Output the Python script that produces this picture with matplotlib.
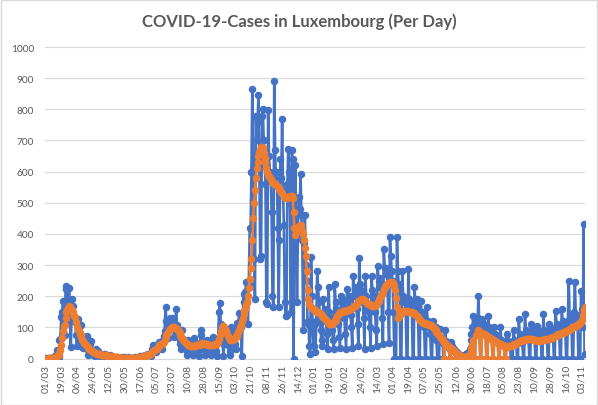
import numpy as np
import matplotlib
matplotlib.use("Agg")
import matplotlib.pyplot as plt
from matplotlib.patches import Rectangle

# daily cases from 01/03/2020, one row per week (Sun..Sat)
daily_cases = [
    0, 1, 0, 1, 1, 0, 2,
    1, 2, 3, 2, 7, 12, 26,
    18, 4, 59, 63, 132, 149, 186,
    128, 77, 224, 234, 120, 152, 226,
    119, 38, 190, 141, 168, 125, 117,
    75, 39, 127, 64, 81, 108, 52,
    36, 34, 60, 45, 68, 73, 26,
    11, 14, 48, 55, 15, 12, 20,
    11, 7, 29, 13, 25, 14, 7,
    5, 2, 9, 10, 16, 14, 10,
    3, 5, 8, 6, 11, 6, 4,
    3, 1, 3, 5, 3, 5, 2,
    3, 0, 2, 6, 2, 3, 4,
    2, 0, 1, 4, 2, 1, 3,
    0, 2, 3, 1, 5, 2, 4,
    1, 3, 6, 9, 8, 5, 7,
    4, 6, 11, 12, 10, 14, 16,
    13, 8, 20, 29, 44, 38, 25,
    21, 28, 46, 54, 39, 51, 44,
    32, 58, 73, 89, 165, 120, 85,
    66, 94, 131, 110, 130, 119, 96,
    68, 72, 160, 106, 79, 88, 59,
    45, 30, 90, 62, 55, 50, 40,
    12, 25, 60, 40, 48, 38, 30,
    10, 22, 65, 44, 50, 36, 24,
    8, 30, 75, 90, 46, 55, 30,
    10, 20, 60, 45, 52, 40, 28,
    12, 38, 70, 58, 48, 45, 25,
    8, 60, 150, 178, 110, 90, 60,
    9, 45, 80, 65, 60, 50, 40,
    10, 25, 100, 70, 60, 95, 48,
    30, 75, 115, 110, 145, 120, 100,
    9, 130, 207, 180, 215, 245, 180,
    110, 240, 420, 416, 600, 864, 590,
    320, 190, 780, 700, 760, 845, 620,
    320, 330, 780, 802, 700, 640, 560,
    180, 175, 797, 650, 600, 580, 470,
    200, 165, 890, 670, 560, 600, 420,
    165, 380, 640, 580, 770, 540, 430,
    180, 137, 140, 560, 673, 600, 500,
    150, 670, 640, 0, 450, 620, 420,
    180, 400, 520, 480, 593, 460, 380,
    90, 370, 460, 300, 250, 110, 120,
    40, 14, 326, 200, 90, 40, 110,
    20, 120, 282, 230, 180, 140, 90,
    41, 60, 191, 140, 160, 120, 80,
    30, 229, 150, 110, 130, 90, 60,
    30, 240, 180, 160, 150, 110, 70,
    35, 202, 190, 160, 180, 130, 80,
    30, 223, 170, 200, 190, 140, 100,
    35, 266, 200, 210, 230, 160, 110,
    40, 323, 240, 220, 210, 180, 130,
    30, 266, 200, 160, 170, 150, 100,
    35, 266, 220, 180, 200, 150, 90,
    40, 298, 250, 230, 260, 200, 130,
    45, 352, 290, 270, 290, 240, 150,
    50, 390, 330, 280, 250, 150, 0,
    0, 0, 390, 280, 240, 220, 0,
    0, 282, 200, 180, 190, 160, 0,
    0, 286, 190, 170, 180, 150, 0,
    0, 229, 170, 160, 190, 140, 0,
    0, 186, 150, 120, 140, 100, 0,
    0, 165, 120, 100, 110, 80, 0,
    0, 120, 90, 80, 100, 60, 0,
    0, 0, 95, 70, 60, 50, 0,
    0, 90, 55, 45, 50, 35, 0,
    0, 53, 40, 25, 30, 20, 0,
    0, 20, 15, 12, 10, 10, 0,
    0, 8, 0, 12, 15, 18, 0,
    0, 30, 60, 80, 100, 138, 0,
    0, 120, 110, 130, 202, 90, 0,
    0, 127, 100, 110, 90, 80, 0,
    0, 138, 100, 90, 80, 70, 0,
    0, 100, 80, 70, 60, 50, 0,
    0, 100, 60, 50, 55, 40, 0,
    0, 80, 60, 50, 45, 40, 0,
    0, 0, 90, 60, 55, 45, 0,
    0, 127, 80, 70, 60, 50, 0,
    0, 143, 90, 70, 80, 60, 0,
    0, 110, 90, 80, 70, 60, 0,
    0, 105, 90, 85, 80, 65, 0,
    0, 143, 90, 80, 85, 60, 0,
    0, 110, 100, 90, 95, 70, 0,
    0, 154, 110, 100, 105, 80, 0,
    0, 159, 120, 110, 100, 90, 0,
    0, 120, 250, 130, 140, 110, 0,
    0, 150, 245, 130, 140, 110, 0,
    0, 0, 218, 160, 100, 432, 14,
]

# 7 day average as shown (orange)
avg_cases = [
    0, 0, 0, 0, 1, 1, 1,
    1, 1, 2, 2, 3, 4, 8,
    10, 10, 18, 26, 44, 65, 89,
    103, 108, 130, 150, 155, 162, 168,
    165, 160, 155, 148, 142, 138, 133,
    117, 105, 96, 88, 80, 74, 68,
    60, 55, 51, 47, 44, 41, 38,
    33, 30, 28, 26, 24, 22, 20,
    19, 18, 17, 16, 15, 14, 13,
    12, 12, 11, 11, 10, 10, 10,
    9, 9, 8, 8, 8, 7, 7,
    6, 6, 5, 5, 4, 4, 4,
    3, 3, 3, 3, 3, 3, 2,
    2, 2, 2, 2, 2, 2, 2,
    2, 2, 2, 2, 3, 3, 3,
    3, 4, 4, 5, 5, 6, 6,
    7, 8, 9, 10, 11, 12, 12,
    14, 15, 17, 20, 24, 26, 28,
    29, 32, 36, 40, 42, 44, 45,
    46, 50, 54, 58, 68, 75, 80,
    86, 90, 96, 98, 100, 101, 100,
    100, 98, 97, 95, 90, 87, 82,
    75, 70, 65, 60, 56, 53, 50,
    47, 45, 43, 42, 41, 41, 40,
    40, 40, 41, 41, 42, 42, 43,
    44, 45, 47, 48, 49, 48, 48,
    47, 46, 45, 44, 44, 44, 43,
    43, 43, 44, 44, 45, 45, 46,
    46, 52, 62, 75, 88, 98, 105,
    104, 100, 95, 88, 80, 72, 66,
    62, 60, 58, 58, 60, 63, 65,
    68, 72, 78, 84, 92, 100, 108,
    120, 130, 142, 152, 160, 172, 180,
    200, 225, 255, 290, 320, 380, 450,
    500, 540, 580, 610, 630, 650, 663,
    670, 678, 680, 675, 660, 645, 630,
    610, 600, 590, 585, 580, 575, 570,
    568, 565, 563, 560, 558, 555, 552,
    548, 545, 540, 535, 530, 525, 520,
    518, 516, 515, 516, 518, 520, 522,
    523, 522, 515, 470, 420, 395, 405,
    415, 420, 425, 427, 427, 420, 410,
    400, 380, 355, 330, 280, 220, 190,
    175, 168, 165, 163, 160, 158, 155,
    153, 151, 150, 148, 146, 145, 143,
    140, 137, 133, 130, 127, 124, 120,
    117, 114, 112, 111, 110, 111, 113,
    116, 120, 125, 130, 136, 141, 145,
    148, 149, 150, 150, 151, 152, 153,
    154, 155, 156, 157, 158, 159, 160,
    162, 164, 167, 170, 173, 176, 180,
    183, 186, 189, 191, 191, 190, 188,
    185, 183, 180, 178, 176, 175, 173,
    172, 171, 170, 170, 170, 171, 173,
    176, 180, 185, 190, 196, 202, 208,
    215, 222, 228, 232, 236, 239, 241,
    243, 244, 245, 245, 243, 240, 232,
    220, 195, 165, 130, 135, 140, 145,
    148, 150, 152, 153, 153, 152, 151,
    151, 150, 150, 149, 149, 148, 147,
    146, 144, 142, 140, 136, 132, 128,
    124, 121, 118, 116, 115, 114, 113,
    112, 111, 110, 109, 108, 107, 106,
    105, 102, 98, 94, 90, 86, 82,
    78, 74, 70, 66, 62, 58, 55,
    0, 50, 47, 44, 41, 38, 0,
    0, 33, 30, 27, 24, 21, 0,
    0, 15, 13, 11, 9, 8, 0,
    0, 6, 5, 5, 6, 7, 0,
    0, 12, 20, 30, 42, 58, 0,
    0, 75, 80, 85, 90, 88, 0,
    0, 82, 80, 78, 76, 74, 0,
    0, 70, 68, 66, 64, 62, 0,
    0, 58, 56, 54, 52, 50, 0,
    0, 48, 46, 44, 42, 40, 0,
    0, 39, 38, 38, 39, 40, 41,
    42, 43, 44, 45, 46, 48, 50,
    52, 53, 55, 56, 57, 58, 58,
    59, 60, 61, 62, 62, 63, 63,
    63, 62, 62, 61, 60, 59, 58,
    58, 57, 57, 57, 57, 58, 58,
    59, 60, 60, 61, 62, 62, 63,
    63, 64, 65, 66, 67, 68, 70,
    71, 72, 74, 75, 77, 78, 80,
    81, 82, 83, 84, 85, 86, 87,
    88, 90, 92, 94, 96, 98, 100,
    101, 102, 103, 104, 106, 108, 110,
    112, 115, 118, 125, 140, 155, 165,
]

tick_labels = ["01/03", "19/03", "06/04", "24/04", "12/05", "30/05", "17/06",
               "05/07", "23/07", "10/08", "28/08", "15/09", "03/10", "21/10",
               "08/11", "26/11", "14/12", "01/01", "19/01", "06/02", "24/02",
               "14/03", "01/04", "19/04", "07/05", "25/05", "12/06", "30/06",
               "18/07", "05/08", "23/08", "10/09", "28/09", "16/10", "03/11"]
tick_step = 18

n = len(daily_cases)
days = np.arange(n)

plt.rcParams['font.family'] = ['Lato', 'DejaVu Sans']
grey = '#595959'

fig = plt.figure(figsize=(5.98, 4.06), dpi=100)
W, H = 598, 406
ax = fig.add_axes([45 / W, (H - 359.5) / H, 540 / W, 311.5 / H])

ax.plot(days, daily_cases, color='#4472C4', lw=1.9, marker='o', ms=4.4, zorder=3)
ax.plot(days, avg_cases, color='#ED7D31', lw=1.9, marker='o', ms=4.4, zorder=4)

ax.set_xlim(-0.5, n - 0.5)
ax.set_ylim(0, 1000)
ax.set_yticks(np.arange(0, 1001, 100))
ax.set_xticks(np.arange(len(tick_labels)) * tick_step)
ax.set_xticklabels(tick_labels, rotation=90)
ax.tick_params(axis='both', length=0, colors=grey, labelsize=7.3)
ax.tick_params(axis='x', pad=4)
ax.tick_params(axis='y', pad=8)
ax.grid(axis='y', color='#D9D9D9', lw=0.8)
ax.set_axisbelow(True)
for s in ['top', 'right', 'left']:
    ax.spines[s].set_visible(False)
ax.spines['bottom'].set_color('#D9D9D9')

fig.text(0.5, 1 - 22 / H, 'COVID-19-Cases in Luxembourg (Per Day)', ha='center', va='center',
         fontsize=12, fontweight='bold', color=grey)
fig.patches.append(Rectangle((0.001, 0.001), 0.997, 0.997, transform=fig.transFigure,
                             fill=False, edgecolor='#D9D9D9', lw=1))

fig.savefig('out.png', dpi=100)
